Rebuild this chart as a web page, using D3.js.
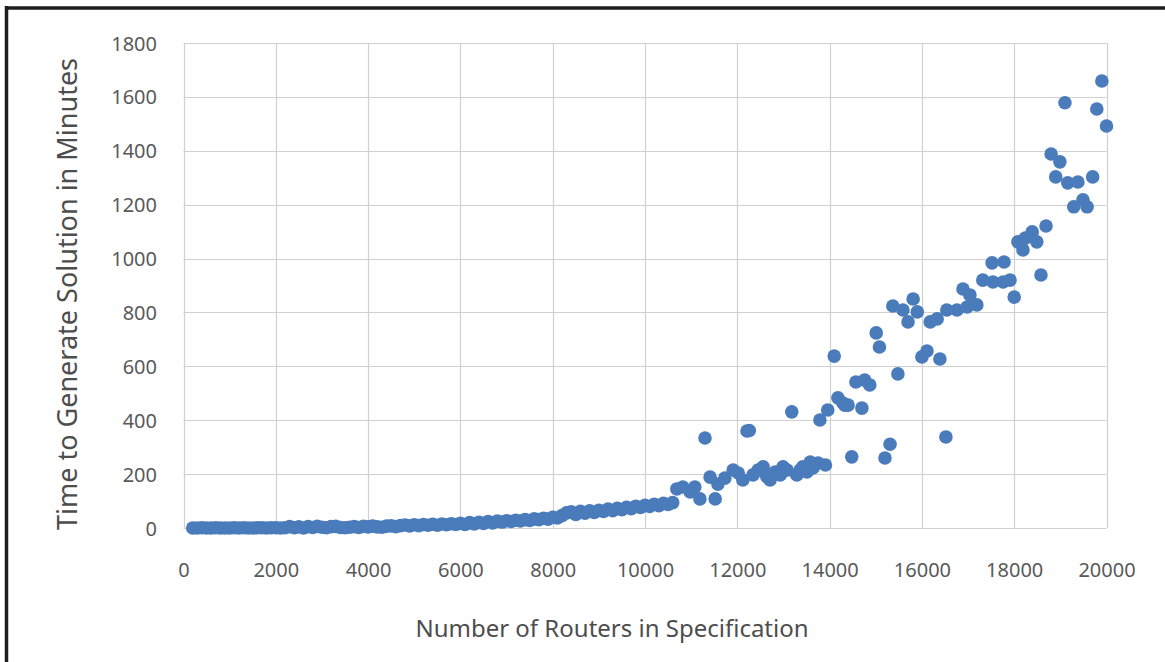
<!DOCTYPE html>
<html>
<head>
  <script src="https://cdnjs.cloudflare.com/ajax/libs/d3/7.8.5/d3.min.js" type="text/javascript"></script>
  <style>
    body { margin: 0; background: #fff; }
    svg { display: block; }
  </style>
</head>
<body>
  <svg id="chart" width="1165" height="662"></svg>
  <script>

// values
var routers = [
  200, 300, 400, 500, 600, 700, 800, 900, 1000, 1100, 1200, 1300, 1400, 1500, 1600, 1700, 1800, 1900, 2000, 2100, 2200,
  2300, 2400, 2500, 2600, 2700, 2800, 2900, 3000, 3100, 3200, 3300, 3400, 3500,
  3600, 3700, 3800, 3900, 4000, 4100, 4200, 4300, 4400, 4500, 4600, 4700,
  4800, 4900, 5000, 5100, 5200, 5300, 5400, 5500, 5600, 5700, 5800, 5900,
  6000, 6100, 6200, 6300, 6400, 6500, 6600, 6700, 6800, 6900,
  7000, 7100, 7200, 7300, 7400, 7500, 7600, 7700, 7800, 7900,
  8000, 8100, 8200, 8300, 8400, 8500, 8600, 8700, 8800, 8900,
  9000, 9100, 9200, 9300, 9400, 9500, 9600, 9700, 9800, 9900,
  10000, 10100, 10200, 10300, 10400, 10500, 10600,
  10690, 10820, 10980, 11080, 11190, 11300, 11410, 11520, 11580, 11730,
  11910, 12020, 12120, 12210, 12260, 12340, 12450, 12560, 12640, 12710,
  12820, 12930, 12990, 13080, 13180, 13290, 13360, 13420, 13510, 13580,
  13640, 13750, 13790, 13910, 13960, 14100, 14180, 14290, 14330, 14400,
  14480, 14570, 14700, 14760, 14870, 15010, 15080, 15200, 15310, 15370,
  15480, 15590, 15700, 15810, 15900, 16000, 16110, 16180, 16330, 16390,
  16520, 16540, 16760, 16890, 16980, 17040, 17190, 17320, 17520, 17540,
  17760, 17780, 17910, 18000, 18080, 18190, 18240, 18390, 18490, 18580,
  18690, 18800, 18900, 18990, 19100, 19160, 19290, 19380, 19490, 19580,
  19700, 19790, 19900, 20000
];

var minutes = [
  0, 0, 1, 0, 0, 1, 0, 0, 0, 1, 0, 1, 0, 0, 1, 1, 0, 1, 1, 0, 1,
  5, 1, 4, 0, 5, 2, 6, 3, 1, 5, 6, 2, 1,
  3, 5, 2, 6, 4, 7, 4, 3, 7, 8, 5, 9,
  11, 8, 12, 9, 13, 10, 14, 10, 15, 12, 16, 13,
  17, 13, 20, 15, 21, 17, 24, 19, 26, 22,
  27, 24, 29, 26, 31, 28, 34, 31, 36, 33,
  40, 37, 46, 56, 60, 50, 62, 55, 64, 58,
  66, 61, 70, 64, 73, 68, 77, 72, 81, 76,
  84, 80, 88, 83, 92, 87, 94,
  145, 152, 134, 152, 108, 334, 189, 108, 163, 185,
  215, 204, 178, 360, 362, 197, 215, 227, 190, 178,
  208, 197, 227, 215, 431, 197, 215, 227, 208, 245,
  223, 241, 401, 234, 438, 638, 483, 464, 456, 456,
  264, 542, 445, 549, 531, 724, 672, 260, 311, 824,
  572, 809, 765, 850, 802, 635, 657, 765, 776, 627,
  338, 809, 809, 887, 820, 865, 828, 920, 984, 913,
  913, 987, 920, 857, 1062, 1032, 1076, 1099, 1062, 939,
  1121, 1388, 1303, 1359, 1578, 1281, 1192, 1284, 1218, 1192,
  1303, 1555, 1659, 1492
];

var xTicks = [0, 2000, 4000, 6000, 8000, 10000, 12000, 14000, 16000, 18000, 20000];
var yTicks = [0, 200, 400, 600, 800, 1000, 1200, 1400, 1600, 1800];

var xTitle = "Number of Routers in Specification";
var yTitle = "Time to Generate Solution in Minutes";

var svg = d3.select("#chart");

var x = d3.scaleLinear().domain([0, 20000]).range([183.5, 1106.5]);
var y = d3.scaleLinear().domain([0, 1800]).range([528, 43]);

// frame
svg.append("line").attr("x1", 5).attr("x2", 1165).attr("y1", 8).attr("y2", 8)
  .attr("stroke", "#1e1e1e").attr("stroke-width", 3.5);
svg.append("line").attr("x1", 6.5).attr("x2", 6.5).attr("y1", 6).attr("y2", 662)
  .attr("stroke", "#1e1e1e").attr("stroke-width", 3.5);

// grid
var grid = svg.append("g");
grid.selectAll(".vg").data(xTicks).enter().append("line")
  .attr("x1", function(d) { return Math.round(x(d)) + 0.5; })
  .attr("x2", function(d) { return Math.round(x(d)) + 0.5; })
  .attr("y1", y(1800)).attr("y2", y(0))
  .attr("stroke", "#d0d0d0").attr("stroke-width", 1.2);
grid.selectAll(".hg").data(yTicks).enter().append("line")
  .attr("x1", x(0)).attr("x2", x(20000))
  .attr("y1", function(d) { return Math.round(y(d)) + 0.5; })
  .attr("y2", function(d) { return Math.round(y(d)) + 0.5; })
  .attr("stroke", "#d0d0d0").attr("stroke-width", 1.2);

// axes (labels only, lines come from the grid)
var xAxis = svg.append("g")
  .attr("transform", "translate(0,560)")
  .call(d3.axisBottom(x).tickValues(xTicks).tickSize(0).tickFormat(d3.format("d")));
var yAxis = svg.append("g")
  .attr("transform", "translate(157,0)")
  .call(d3.axisLeft(y).tickValues(yTicks).tickSize(0).tickFormat(d3.format("d")));

[xAxis, yAxis].forEach(function(a) {
  a.select(".domain").remove();
  a.selectAll("text")
    .style("font-family", "'Noto Sans', 'Open Sans', sans-serif")
    .style("font-size", "20px")
    .attr("fill", "#595959");
});
yAxis.selectAll("text").attr("x", 0).attr("dy", "0.35em");

// points
svg.append("g").selectAll("circle")
  .data(routers)
  .enter().append("circle")
  .attr("cx", function(d) { return x(d); })
  .attr("cy", function(d, i) { return y(minutes[i]); })
  .attr("r", 6.8)
  .attr("fill", "#4a7bbb");

// titles
svg.append("text")
  .attr("x", 612).attr("y", 637)
  .attr("text-anchor", "middle")
  .style("font-family", "'Noto Sans', 'Open Sans', sans-serif")
  .style("font-size", "24px")
  .attr("fill", "#4d4d4d")
  .text(xTitle);

svg.append("text")
  .attr("transform", "translate(77,294) rotate(-90)")
  .attr("text-anchor", "middle")
  .style("font-family", "'Noto Sans', 'Open Sans', sans-serif")
  .style("font-size", "27px")
  .attr("fill", "#4d4d4d")
  .text(yTitle);

  </script>
</body>
</html>
